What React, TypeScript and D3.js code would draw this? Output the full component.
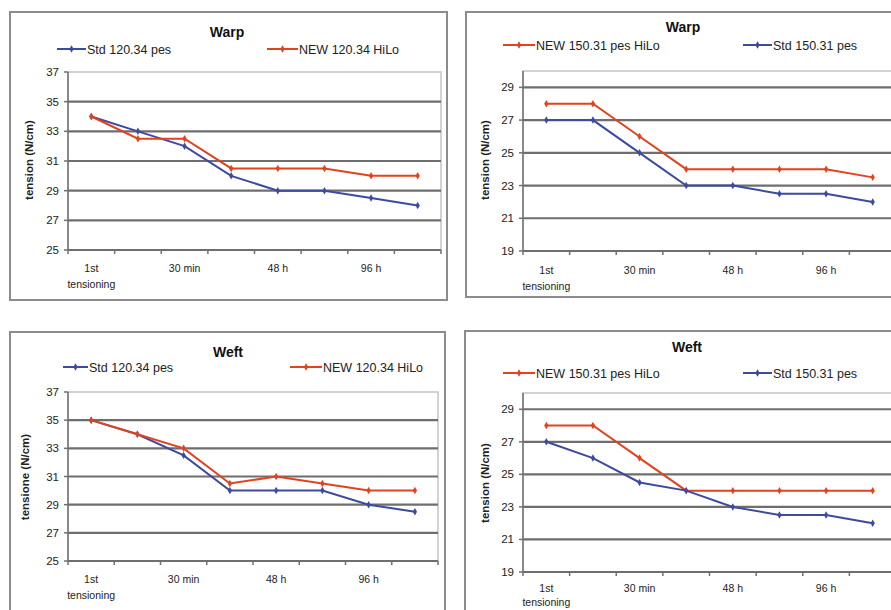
import React from 'react';
import * as d3 from 'd3';

// time steps on the x axis (only every other one carries a label)
const categories = ['1st tensioning', '', '30 min', '', '48 h', '', '96 h', ''];

const ticks120 = [25, 27, 29, 31, 33, 35, 37];
const ticks150 = [19, 21, 23, 25, 27, 29];

const warp120Std = [34, 33, 32, 30, 29, 29, 28.5, 28];
const warp120New = [34, 32.5, 32.5, 30.5, 30.5, 30.5, 30, 30];
const warp150New = [28, 28, 26, 24, 24, 24, 24, 23.5];
const warp150Std = [27, 27, 25, 23, 23, 22.5, 22.5, 22];
const weft120Std = [35, 34, 32.5, 30, 30, 30, 29, 28.5];
const weft120New = [35, 34, 33, 30.5, 31, 30.5, 30, 30];
const weft150New = [28, 28, 26, 24, 24, 24, 24, 24];
const weft150Std = [27, 26, 24.5, 24, 23, 22.5, 22.5, 22];

const BLUE = '#3c4aa0';
const RED = '#e2431e';
const FONT = '"Liberation Sans", Arial, sans-serif';

type Series = { name: string; values: number[]; color: string; lx1: number; lx2: number };

type PanelProps = {
  box: [number, number, number, number];
  plot: { left: number; right: number; top: number; bottom: number };
  domain: [number, number];
  ticks: number[];
  title: string;
  titleX: number;
  titleY: number;
  legendY: number;
  series: Series[];
  yLabel: string;
  yLabelX: number;
  yLabelY: number;
  labelY: number;
  labelGap: number;
};

const Panel = (p: PanelProps) => {
  const { plot } = p;
  const x = d3
    .scaleBand<number>()
    .domain(categories.map((_, i) => i))
    .range([plot.left, plot.right]);
  const y = d3.scaleLinear().domain(p.domain).range([plot.bottom, plot.top]);
  const line = d3
    .line<number>()
    .x((_, i) => (x(i) as number) + x.bandwidth() / 2)
    .y(d => y(d));
  const marker = d3.symbol(d3.symbolDiamond, 16)() as string;
  const bounds = categories.map((_, i) => x(i) as number).concat([plot.right]);

  return (
    <g fontFamily={FONT}>
      <rect x={p.box[0]} y={p.box[1]} width={p.box[2]} height={p.box[3]} fill="#fff" stroke="#8c8c8c" strokeWidth={2} />
      <text x={p.titleX} y={p.titleY} textAnchor="middle" fontWeight="bold" fontSize={14} fill="#111">
        {p.title}
      </text>
      {p.series.map(s => (
        <g key={s.name}>
          <line x1={s.lx1} x2={s.lx2} y1={p.legendY} y2={p.legendY} stroke={s.color} strokeWidth={2} />
          <path d={marker} transform={`translate(${(s.lx1 + s.lx2) / 2},${p.legendY})`} fill={s.color} />
          <text x={s.lx2 + 1} y={p.legendY + 4.5} fontSize={12.5} fill="#222">
            {s.name}
          </text>
        </g>
      ))}
      <rect x={plot.left} y={plot.top} width={plot.right - plot.left} height={plot.bottom - plot.top} fill="#fff" stroke="#c4c4c4" strokeWidth={1.5} />
      {p.ticks.slice(1).filter(t => y(t) > plot.top + 2).map(t => (
        <line key={t} x1={plot.left} x2={plot.right} y1={y(t)} y2={y(t)} stroke="#6e6e6e" strokeWidth={2.2} />
      ))}
      <line x1={plot.left} x2={plot.right} y1={plot.bottom} y2={plot.bottom} stroke="#6e6e6e" strokeWidth={2} />
      <line x1={plot.left} x2={plot.left} y1={plot.top} y2={plot.bottom} stroke="#707070" strokeWidth={1.5} />
      {p.ticks.map(t => (
        <g key={t}>
          <line x1={plot.left - 4} x2={plot.left} y1={y(t)} y2={y(t)} stroke="#707070" strokeWidth={1.5} />
          <text x={plot.left - 9} y={y(t) + 4} textAnchor="end" fontSize={11.5} fill="#222">
            {t}
          </text>
        </g>
      ))}
      {bounds.map((b, i) => (
        <line key={i} x1={b} x2={b} y1={plot.bottom} y2={plot.bottom + 4} stroke="#707070" strokeWidth={1.5} />
      ))}
      {categories.map((c, i) => {
        if (!c) return null;
        const cx = (x(i) as number) + x.bandwidth() / 2;
        const parts = c === '1st tensioning' ? ['1st', 'tensioning'] : [c];
        return (
          <text key={i} x={cx} y={p.labelY} textAnchor="middle" fontSize={10.5} fill="#222">
            {parts.map((t, j) => (
              <tspan key={j} x={cx} dy={j === 0 ? 0 : p.labelGap}>
                {t}
              </tspan>
            ))}
          </text>
        );
      })}
      <text
        transform={`translate(${p.yLabelX},${p.yLabelY}) rotate(-90)`}
        textAnchor="middle"
        fontSize={11.5}
        fontWeight="bold"
        fill="#222"
      >
        {p.yLabel}
      </text>
      {p.series.map(s => (
        <g key={s.name}>
          <path d={line(s.values) as string} fill="none" stroke={s.color} strokeWidth={2} />
          {s.values.map((v, i) => (
            <path
              key={i}
              d={marker}
              transform={`translate(${(x(i) as number) + x.bandwidth() / 2},${y(v)})`}
              fill={s.color}
            />
          ))}
        </g>
      ))}
    </g>
  );
};

const App = () => (
  <div style={{ position: 'absolute', left: 0, top: 0 }}>
    <svg width={891} height={610} style={{ display: 'block', background: '#fff' }}>
      <Panel
        box={[10, 12, 437, 288]}
        plot={{ left: 68, right: 441, top: 72, bottom: 250 }}
        domain={[25, 37]}
        ticks={ticks120}
        title="Warp"
        titleX={227}
        titleY={37}
        legendY={49}
        series={[
          { name: 'Std 120.34 pes', values: warp120Std, color: BLUE, lx1: 57, lx2: 86 },
          { name: 'NEW 120.34 HiLo', values: warp120New, color: RED, lx1: 267, lx2: 298 },
        ]}
        yLabel="tension (N/cm)"
        yLabelX={33}
        yLabelY={160}
        labelY={272}
        labelGap={16}
      />
      <Panel
        box={[466, 12, 440, 285]}
        plot={{ left: 523, right: 896, top: 71, bottom: 251 }}
        domain={[19, 30]}
        ticks={ticks150}
        title="Warp"
        titleX={683}
        titleY={32}
        legendY={45}
        series={[
          { name: 'NEW 150.31 pes HiLo', values: warp150New, color: RED, lx1: 503, lx2: 535 },
          { name: 'Std 150.31 pes', values: warp150Std, color: BLUE, lx1: 743, lx2: 772 },
        ]}
        yLabel="tension (N/cm)"
        yLabelX={489}
        yLabelY={160}
        labelY={274}
        labelGap={16}
      />
      <Panel
        box={[10, 332, 435, 290]}
        plot={{ left: 68, right: 438, top: 392, bottom: 561 }}
        domain={[25, 37]}
        ticks={ticks120}
        title="Weft"
        titleX={228}
        titleY={357}
        legendY={367}
        series={[
          { name: 'Std 120.34 pes', values: weft120Std, color: BLUE, lx1: 63, lx2: 88 },
          { name: 'NEW 120.34 HiLo', values: weft120New, color: RED, lx1: 290, lx2: 322 },
        ]}
        yLabel="tensione (N/cm)"
        yLabelX={29}
        yLabelY={477}
        labelY={583}
        labelGap={16}
      />
      <Panel
        box={[465, 331, 440, 290]}
        plot={{ left: 523, right: 896, top: 393, bottom: 572 }}
        domain={[19, 30]}
        ticks={ticks150}
        title="Weft"
        titleX={687}
        titleY={352}
        legendY={373}
        series={[
          { name: 'NEW 150.31 pes HiLo', values: weft150New, color: RED, lx1: 503, lx2: 535 },
          { name: 'Std 150.31 pes', values: weft150Std, color: BLUE, lx1: 743, lx2: 772 },
        ]}
        yLabel="tension (N/cm)"
        yLabelX={489}
        yLabelY={483}
        labelY={592}
        labelGap={13.5}
      />
    </svg>
  </div>
);

export default App;
